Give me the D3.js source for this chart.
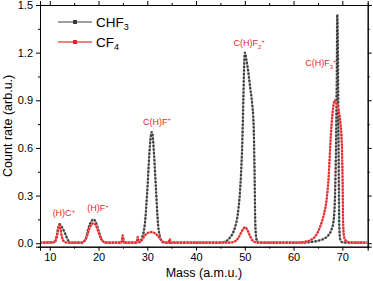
<!DOCTYPE html>
<html>
<head>
<meta charset="utf-8">
<script src="https://cdn.jsdelivr.net/npm/d3@7"></script>
<style>
  body { margin: 0; background: #fff; }
  svg text { font-family: "Liberation Sans", Arial, sans-serif; }
</style>
</head>
<body>
<div id="chart"></div>
<script>
// CHF3 scan (mass, count rate)
var massCHF3 = [8, 10, 11, 11.4, 11.7, 12.0, 12.3, 12.7, 13.1, 13.5, 13.9, 14.3,
  16.5, 17, 17.5, 17.9, 18.3, 18.7, 19.0, 19.4, 19.8, 20.2, 20.6, 21.1, 21.6,
  24.7, 25.0, 25.3,
  27.5, 28.5, 29, 29.5, 30, 30.4, 30.7, 30.9, 31.1, 31.4, 31.8, 32.2, 32.6, 33.0, 33.5,
  45, 46, 46.8, 47.5, 48.0, 48.5, 48.9, 49.2, 49.5, 49.7, 49.85, 50.0, 50.3, 50.7, 51.1, 51.5, 51.8, 52.0, 52.1, 52.25, 52.5, 53,
  62, 63.5, 65, 66, 67, 67.7, 68.2, 68.5, 68.7, 68.85, 68.95, 69.1, 69.2, 69.3, 69.4, 69.6, 70, 71, 75]
var rateCHF3 = [0.004, 0.004, 0.01, 0.04, 0.09, 0.12, 0.11, 0.09, 0.065, 0.035, 0.012, 0.004,
  0.004, 0.012, 0.04, 0.09, 0.125, 0.145, 0.15, 0.135, 0.1, 0.06, 0.025, 0.008, 0.004,
  0.004, 0.03, 0.004,
  0.004, 0.01, 0.04, 0.12, 0.33, 0.55, 0.67, 0.70, 0.68, 0.55, 0.33, 0.12, 0.04, 0.012, 0.004,
  0.004, 0.01, 0.03, 0.06, 0.1, 0.17, 0.28, 0.42, 0.65, 0.9, 1.1, 1.2, 1.16, 1.08, 0.98, 0.88, 0.75, 0.45, 0.2, 0.06, 0.015, 0.004,
  0.004, 0.008, 0.015, 0.025, 0.045, 0.08, 0.14, 0.3, 0.6, 1.0, 1.44, 1.2, 0.7, 0.3, 0.08, 0.02, 0.006, 0.004, 0.004]

// CF4 scan
var massCF4 = [8, 11, 11.5, 11.8, 12.0, 12.2, 12.5, 12.9, 13.5,
  16.5, 17.2, 17.7, 18.1, 18.5, 18.9, 19.3, 19.7, 20.1, 20.5, 21, 21.6,
  24.7, 24.95, 25.2,
  27.8, 28.05, 28.3,
  28.7, 29.2, 29.7, 30.2, 30.7, 31.2, 31.7, 32.2, 32.7, 33.2, 33.8,
  34.3, 34.6, 34.9,
  47, 48, 48.7, 49.3, 49.8, 50.1, 50.5, 51, 51.5, 52.2, 53,
  61, 62.5, 63.5, 64.5, 65.4, 66.2, 66.8, 67.2, 67.5, 67.8, 68.1, 68.4, 68.8, 69.2, 69.6, 69.9, 70.05, 70.15, 70.3, 70.6, 71.2, 72, 75]
var rateCF4 = [0.004, 0.006, 0.05, 0.1, 0.115, 0.09, 0.04, 0.012, 0.004,
  0.004, 0.015, 0.05, 0.09, 0.115, 0.125, 0.12, 0.095, 0.06, 0.03, 0.01, 0.004,
  0.004, 0.05, 0.004,
  0.004, 0.04, 0.006,
  0.012, 0.035, 0.055, 0.066, 0.07, 0.068, 0.06, 0.045, 0.025, 0.01, 0.004,
  0.004, 0.025, 0.004,
  0.004, 0.012, 0.035, 0.07, 0.095, 0.1, 0.085, 0.05, 0.02, 0.006, 0.004,
  0.004, 0.01, 0.02, 0.045, 0.1, 0.18, 0.28, 0.42, 0.6, 0.75, 0.85, 0.9, 0.88, 0.84, 0.76, 0.62, 0.4, 0.15, 0.05, 0.02, 0.008, 0.004, 0.004]

var xTicks = [10, 20, 30, 40, 50, 60, 70]
var xMinor = [15, 25, 35, 45, 55, 65]
var yTicks = [0, 0.3, 0.6, 0.9, 1.2, 1.5]
var yMinor = [0.15, 0.45, 0.75, 1.05, 1.35]

// peak labels: text, sub, sup, mass (centre), rate (baseline)
var peakLabels = [
  ["(H)C", "", "+", 12.9, 0.17],
  ["(H)F", "", "+", 19.9, 0.2],
  ["C(H)F", "", "+", 32.0, 0.745],
  ["C(H)F", "2", "+", 50.9, 1.24],
  ["C(H)F", "3", "+", 65.6, 1.115]
]

var red = "#e8262a", dark = "#3a3a3a"
var W = 373, H = 281
var margin = {top: 5, right: 5.3, bottom: 34.3, left: 40}
var width = W - margin.left - margin.right,
    height = H - margin.top - margin.bottom

var svg = d3.select("#chart").append("svg")
    .attr("width", W).attr("height", H)
  .append("g")
    .attr("transform", "translate(" + margin.left + "," + margin.top + ")")

var x = d3.scaleLinear().domain([8, 75.2]).range([0, width])
var y = d3.scaleLinear().domain([-0.022, 1.5]).range([height, 0])

var line = d3.line()
    .x(function(d) { return x(d[0]) })
    .y(function(d) { return y(d[1]) })
    .curve(d3.curveMonotoneX)

var chf3 = d3.zip(massCHF3, rateCHF3)
var cf4 = d3.zip(massCF4, rateCF4)

svg.append("defs").append("clipPath").attr("id", "clip")
  .append("rect").attr("width", width).attr("height", height)

var plot = svg.append("g").attr("clip-path", "url(#clip)")

// CHF3: grey line + dark dotted marker trace
plot.append("path").datum(chf3).attr("d", line)
    .attr("fill", "none").attr("stroke", "#a0a0a0").attr("stroke-width", 1.8)
plot.append("path").datum(chf3).attr("d", line)
    .attr("fill", "none").attr("stroke", dark).attr("stroke-width", 2.2)
    .attr("stroke-dasharray", "2,1.6")

// CF4: light red line + red dotted trace
plot.append("path").datum(cf4).attr("d", line)
    .attr("fill", "none").attr("stroke", "#f08080").attr("stroke-width", 1.8)
plot.append("path").datum(cf4).attr("d", line)
    .attr("fill", "none").attr("stroke", red).attr("stroke-width", 2.2)
    .attr("stroke-dasharray", "2,1.2")

// axes
function addAxis(axis, tr) {
  var g = svg.append("g").attr("transform", tr).call(axis)
  g.select(".domain").attr("stroke", "#000")
  g.selectAll(".tick line").attr("stroke", "#000")
  g.selectAll("text").style("font-size", "11px").attr("fill", "#000")
  return g
}
addAxis(d3.axisBottom(x).tickValues(xTicks).tickSize(4).tickPadding(3).tickFormat(d3.format("d")), "translate(0," + height + ")")
addAxis(d3.axisBottom(x).tickValues(xMinor).tickSize(2).tickFormat(""), "translate(0," + height + ")")
addAxis(d3.axisTop(x).tickValues(xTicks).tickSize(4).tickFormat(""), "translate(0,0)")
addAxis(d3.axisTop(x).tickValues(xMinor).tickSize(2).tickFormat(""), "translate(0,0)")
addAxis(d3.axisLeft(y).tickValues(yTicks).tickSize(4).tickPadding(3).tickFormat(d3.format(".1f")), "translate(0,0)")
addAxis(d3.axisLeft(y).tickValues(yMinor).tickSize(2).tickFormat(""), "translate(0,0)")
addAxis(d3.axisRight(y).tickValues(yTicks).tickSize(4).tickFormat(""), "translate(" + width + ",0)")
addAxis(d3.axisRight(y).tickValues(yMinor).tickSize(2).tickFormat(""), "translate(" + width + ",0)")

// axis titles
svg.append("text")
    .attr("x", width / 2).attr("y", height + 30)
    .attr("text-anchor", "middle").style("font-size", "12.5px")
    .text("Mass (a.m.u.)")
svg.append("text")
    .attr("transform", "translate(-28," + (height / 2) + ") rotate(-90)")
    .attr("text-anchor", "middle").style("font-size", "12.5px")
    .text("Count rate (arb.u.)")

// peak labels
peakLabels.forEach(function(p) {
  var t = svg.append("text")
      .attr("x", x(p[3])).attr("y", y(p[4]))
      .attr("text-anchor", "middle")
      .attr("fill", red).style("font-size", "9px")
  t.append("tspan").text(p[0])
  if (p[1]) t.append("tspan").attr("dy", 2.5).style("font-size", "6px").text(p[1])
  t.append("tspan").attr("dy", p[1] ? -6 : -3.5).style("font-size", "6px").text(p[2])
})

// legend
var legend = [["CHF", "3", dark, "#a0a0a0"], ["CF", "4", red, "#f08080"]]
legend.forEach(function(l, i) {
  var ly = 17 + i * 20
  var g = svg.append("g")
  g.append("line").attr("x1", 18).attr("x2", 52).attr("y1", ly).attr("y2", ly)
      .attr("stroke", l[3]).attr("stroke-width", 1.8)
  g.append("rect").attr("x", 33).attr("y", ly - 2).attr("width", 4).attr("height", 4)
      .attr("fill", l[2])
  var t = g.append("text").attr("x", 56).attr("y", ly + 5).style("font-size", "13.5px")
  t.append("tspan").text(l[0])
  t.append("tspan").attr("dy", 3).style("font-size", "9px").text(l[1])
})
</script>
</body>
</html>
